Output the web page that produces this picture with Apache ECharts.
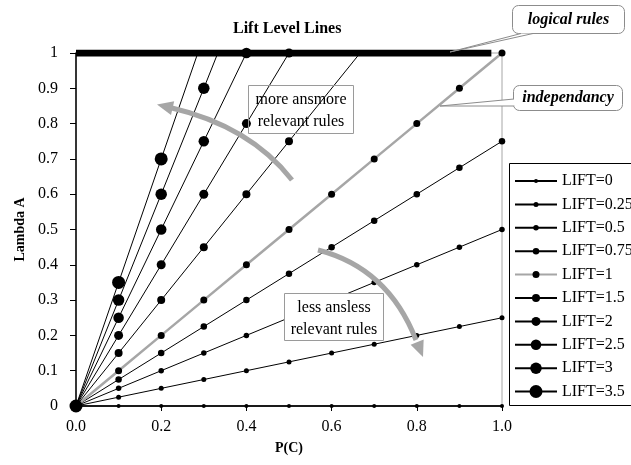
<!DOCTYPE html>
<html>
<head>
<meta charset="utf-8">
<script src="https://cdn.jsdelivr.net/npm/echarts@6/dist/echarts.min.js"></script>
<style>
  html, body { margin: 0; padding: 0; background: #fff; }
  #chart { width: 631px; height: 465px; }
</style>
</head>
<body>
<div id="chart"></div>
<script>
// P(C) sample points shared by every lift level line
const pC = [0, 0.1, 0.2, 0.3, 0.4, 0.5, 0.6, 0.7, 0.8, 0.9, 1.0];

const liftNames = ['LIFT=0', 'LIFT=0.25', 'LIFT=0.5', 'LIFT=0.75', 'LIFT=1',
                   'LIFT=1.5', 'LIFT=2', 'LIFT=2.5', 'LIFT=3', 'LIFT=3.5'];

// Lambda A at each sampled P(C)
const lambdaLift0   = [0, 0, 0, 0, 0, 0, 0, 0, 0, 0, 0];
const lambdaLift025 = [0, 0.025, 0.05, 0.075, 0.1, 0.125, 0.15, 0.175, 0.2, 0.225, 0.25];
const lambdaLift05  = [0, 0.05, 0.1, 0.15, 0.2, 0.25, 0.3, 0.35, 0.4, 0.45, 0.5];
const lambdaLift075 = [0, 0.075, 0.15, 0.225, 0.3, 0.375, 0.45, 0.525, 0.6, 0.675, 0.75];
const lambdaLift1   = [0, 0.1, 0.2, 0.3, 0.4, 0.5, 0.6, 0.7, 0.8, 0.9, 1.0];
const lambdaLift15  = [0, 0.15, 0.3, 0.45, 0.6, 0.75];
const lambdaLift2   = [0, 0.2, 0.4, 0.6, 0.8, 1.0];
const lambdaLift25  = [0, 0.25, 0.5, 0.75, 1.0];
const lambdaLift3   = [0, 0.3, 0.6, 0.9];
const lambdaLift35  = [0, 0.35, 0.7];

// P(C) where a steep line runs into Lambda A = 1 between samples (no marker there)
const topCrossingPC = [null, null, null, null, null, 0.667, null, null, 0.333, 0.286];

// the "logical rules" level, Lambda A = 1
const logicalRulesPC = [0, 0.975];
const logicalRulesLambda = [1, 1];

const xTickLabels = ['0.0', '0.2', '0.4', '0.6', '0.8', '1.0'];
const yTickLabels = ['0', '0.1', '0.2', '0.3', '0.4', '0.5', '0.6', '0.7', '0.8', '0.9', '1'];

// ---- styling ----
const SERIF = '"Liberation Serif", "Times New Roman", serif';
const markerSizes = [4, 5, 5.5, 6.5, 7, 8, 9, 10.5, 11.5, 13];
const lambdas = [lambdaLift0, lambdaLift025, lambdaLift05, lambdaLift075, lambdaLift1,
                 lambdaLift15, lambdaLift2, lambdaLift25, lambdaLift3, lambdaLift35];
const GRAY_LINE = '#a6a6a6';

const liftSeries = liftNames.map((name, i) => {
  const pts = lambdas[i].map((v, j) => [pC[j], v]);
  if (topCrossingPC[i] != null) {
    pts.push({ value: [topCrossingPC[i], 1], symbol: 'none' });
  }
  const isIndep = name === 'LIFT=1';
  return {
    name,
    type: 'line',
    data: pts,
    symbol: 'circle',
    symbolSize: markerSizes[i],
    showSymbol: true,
    lineStyle: { color: isIndep ? GRAY_LINE : '#000', width: isIndep ? 2.5 : 1 },
    itemStyle: { color: '#000' },
    emphasis: { disabled: true },
    silent: true,
    clip: false
  };
});

const logicalSeries = {
  name: 'logical rules',
  type: 'line',
  data: logicalRulesPC.map((x, i) => [x, logicalRulesLambda[i]]),
  symbol: 'none',
  lineStyle: { color: '#000', width: 7, cap: 'butt' },
  emphasis: { disabled: true },
  silent: true,
  z: 1
};

// one legend block per lift so each keeps its own marker size
const legendTop = 181, legendStep = 23.4;
const legends = liftNames.map((name, i) => {
  const h = markerSizes[i] / 0.8;
  const boxH = Math.max(h, 16);
  return {
    data: [name],
    orient: 'vertical',
    left: 514,
    top: legendTop + i * legendStep - boxH / 2,
    padding: 0,
    itemGap: 0,
    itemWidth: 42,
    itemHeight: h,
    selectedMode: false,
    textStyle: { color: '#000', fontSize: 16, fontFamily: SERIF, lineHeight: 16 }
  };
});

// ---- annotations ----
function arrowHead(tip, from, len, half) {
  const dx = tip[0] - from[0], dy = tip[1] - from[1];
  const d = Math.hypot(dx, dy);
  const ux = dx / d, uy = dy / d;
  const bx = tip[0] - ux * len, by = tip[1] - uy * len;
  return [tip, [bx - uy * half, by + ux * half], [bx + uy * half, by - ux * half]];
}

function curvedArrow(p0, c, p1, tip) {
  return [
    { type: 'bezierCurve', z: 20, silent: true,
      shape: { x1: p0[0], y1: p0[1], cpx1: c[0], cpy1: c[1], x2: p1[0], y2: p1[1] },
      style: { stroke: GRAY_LINE, lineWidth: 5, fill: null } },
    { type: 'polygon', z: 20, silent: true,
      shape: { points: arrowHead(tip, c, 16, 7) },
      style: { fill: GRAY_LINE } }
  ];
}

function callout(box, base1, base2, tip, label) {
  return [
    { type: 'rect', z: 30, silent: true,
      shape: { x: box[0], y: box[1], width: box[2], height: box[3], r: 6 },
      style: { fill: '#fff', stroke: '#8c8c8c', lineWidth: 1 } },
    { type: 'polygon', z: 31, silent: true,
      shape: { points: [base1, tip, base2] },
      style: { fill: '#fff' } },
    { type: 'polyline', z: 32, silent: true,
      shape: { points: [base1, tip, base2] },
      style: { stroke: '#8c8c8c', lineWidth: 1, fill: null } },
    { type: 'text', z: 33, silent: true,
      x: box[0] + box[2] / 2, y: box[1] + box[3] / 2,
      style: { text: label, align: 'center', verticalAlign: 'middle',
               font: 'italic bold 16px ' + SERIF, fill: '#000' } }
  ];
}

function noteBox(box, lines, fill) {
  const els = [
    { type: 'rect', z: 25, silent: true,
      shape: { x: box[0], y: box[1], width: box[2], height: box[3] },
      style: { fill: fill, stroke: '#9a9a9a', lineWidth: 1 } }
  ];
  lines.forEach((t, k) => {
    els.push({ type: 'text', z: 26, silent: true,
      x: box[0] + box[2] / 2, y: box[1] + 14 + k * 22.5,
      style: { text: t, align: 'center', verticalAlign: 'middle',
               font: '16px ' + SERIF, fill: '#000' } });
  });
  return els;
}

const graphics = [].concat(
  [{ type: 'rect', z: 5, silent: true,
     shape: { x: 509.5, y: 163.5, width: 140, height: 242 },
     style: { fill: null, stroke: '#000', lineWidth: 1 } }],
  noteBox([248.5, 85.5, 105, 48], ['more ansmore', 'relevant rules'], null),
  noteBox([284.5, 293.5, 99, 47], ['less ansless', 'relevant rules'], '#fff'),
  curvedArrow([292, 180], [250, 126], [170, 107.5], [157, 104.5]),
  curvedArrow([318, 250], [388, 268], [416, 340], [423, 357]),
  callout([512.5, 5.5, 112, 28], [521, 33.5], [533, 33.5], [450, 52], 'logical rules'),
  callout([513.5, 85.5, 109, 25], [514, 99], [514, 106], [440, 106], 'independancy')
);

const chart = echarts.init(document.getElementById('chart'), null, { renderer: 'canvas' });
chart.setOption({
  animation: false,
  backgroundColor: '#fff',
  title: {
    text: 'Lift Level Lines',
    left: 233, top: 21, padding: 0,
    textStyle: { color: '#000', fontSize: 16, fontWeight: 'bold', fontFamily: SERIF }
  },
  grid: {
    left: 76, right: 129, top: 53, bottom: 59,
    show: true, borderColor: GRAY_LINE, borderWidth: 1,
    containLabel: false, outerBoundsMode: 'none'
  },
  legend: legends,
  xAxis: {
    type: 'value', min: 0, max: 1, interval: 0.2,
    name: 'P(C)', nameLocation: 'middle', nameGap: 35,
    nameTextStyle: { color: '#000', fontSize: 14, fontWeight: 'bold', fontFamily: SERIF },
    axisLine: { show: true, onZero: false, lineStyle: { color: '#000', width: 1.5 } },
    axisTick: { show: true, length: 5, lineStyle: { color: '#000', width: 1 } },
    axisLabel: { color: '#000', fontSize: 16, fontFamily: SERIF, margin: 13,
                 formatter: (v, idx) => xTickLabels[idx] },
    splitLine: { show: false }
  },
  yAxis: {
    type: 'value', min: 0, max: 1, interval: 0.1,
    name: 'Lambda A', nameLocation: 'middle', nameGap: 48, nameRotate: 90,
    nameTextStyle: { color: '#000', fontSize: 14, fontWeight: 'bold', fontFamily: SERIF },
    axisLine: { show: true, onZero: false, lineStyle: { color: '#000', width: 1.5 } },
    axisTick: { show: true, length: 6, lineStyle: { color: '#000', width: 1 } },
    axisLabel: { color: '#000', fontSize: 16, fontFamily: SERIF, margin: 18,
                 formatter: (v, idx) => yTickLabels[idx] },
    splitLine: { show: false }
  },
  series: [logicalSeries].concat(liftSeries),
  graphic: graphics
});
</script>
</body>
</html>
